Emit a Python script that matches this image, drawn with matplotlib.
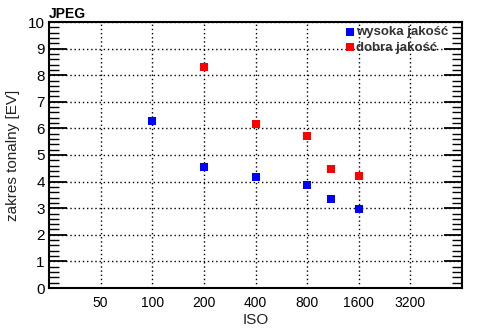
import matplotlib
matplotlib.use("Agg")
import matplotlib.pyplot as plt
from matplotlib.ticker import FixedLocator, MultipleLocator, NullFormatter, NullLocator

plt.rcParams['font.family'] = ['Liberation Sans', 'DejaVu Sans']

iso_ticks = [50, 100, 200, 400, 800, 1600, 3200]
iso_labels = ["50", "100", "200", "400", "800", "1600", "3200"]

high_iso = [100, 200, 400, 800, 1100, 1600]
high_ev = [6.29, 4.56, 4.18, 3.87, 3.35, 2.97]

good_iso = [200, 400, 800, 1100, 1600]
good_ev = [8.32, 6.17, 5.73, 4.49, 4.21]

fig = plt.figure(figsize=(4.94, 3.31), dpi=100)
ax = fig.add_axes([49 / 494, 1 - 288 / 331, 413 / 494, 266 / 331])

ax.set_xscale('log', base=2)
ax.set_xlim(25, 6400)
ax.set_ylim(0, 10)

ax.scatter(high_iso, high_ev, marker='s', s=28, color='#0000ff', linewidths=0,
           label='wysoka jakość', zorder=3)
ax.scatter(good_iso, good_ev, marker='s', s=28, color='#ff0000', linewidths=0,
           label='dobra jakość', zorder=3)

ax.xaxis.set_major_locator(FixedLocator(iso_ticks))
ax.set_xticklabels(iso_labels)
ax.xaxis.set_minor_locator(NullLocator())
ax.xaxis.set_minor_formatter(NullFormatter())
ax.tick_params(axis='x', which='major', length=0, pad=6, labelsize=10)

ax.yaxis.set_major_locator(MultipleLocator(1))
ax.yaxis.set_minor_locator(MultipleLocator(0.2))
ax.tick_params(axis='y', which='major', direction='in', length=13, width=1.3,
               left=True, right=True, labelsize=11, pad=3)
ax.tick_params(axis='y', which='minor', direction='in', length=7, width=1.0,
               left=True, right=True)

ax.grid(True, which='major', color='black', linestyle=(0, (1, 2)), linewidth=1.0)

for s in ax.spines.values():
    s.set_linewidth(1.5)
    s.set_color('black')

ax.set_xlabel('ISO', fontsize=11, labelpad=2, color='#222222')
ax.set_ylabel('zakres tonalny [EV]', fontsize=11, labelpad=6, color='#222222')

ax.text(0.0, 1.005, 'JPEG', transform=ax.transAxes, fontsize=10, fontweight='bold',
        ha='left', va='bottom')

leg = ax.legend(loc='upper right', bbox_to_anchor=(0.985, 1.015), frameon=False,
                handletextpad=0.0, handlelength=0.8, markerscale=1.0,
                borderaxespad=0.2, labelspacing=0.25,
                prop={'weight': 'bold', 'size': 9.5})
for t in leg.get_texts():
    t.set_color('#333333')

fig.savefig('out.png', dpi=100)
